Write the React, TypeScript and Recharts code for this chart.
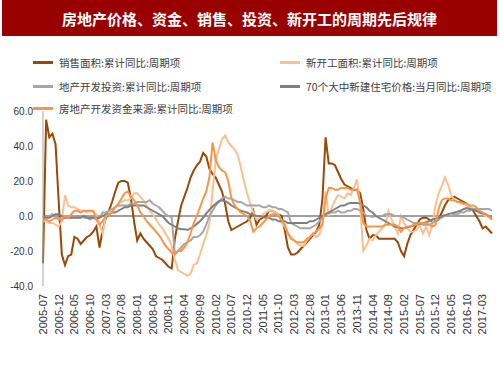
import React from "react";
import { LineChart, Line, XAxis, YAxis, ReferenceLine } from "recharts";

// monthly categories 2005-07 .. 2017-06
const firstYear = 2005;
const firstMonth = 7;
const monthCount = 144;
const months: string[] = [];
for (let k = 0; k < monthCount; k++) {
  const m = firstMonth - 1 + k;
  months.push(`${firstYear + Math.floor(m / 12)}-${String((m % 12) + 1).padStart(2, "0")}`);
}

const yTicks = [-40, -20, 0, 20, 40, 60];

// 销售面积:累计同比:周期项
const salesArea = [
  -27, 55, 45, 47, 41, 8, -22, -28, -23, -22, -12, -13,
  -16, -14, -12, -11, -9, -6, -18, -8, -1, 3, 8, 14,
  19, 20, 20, 19, 10, -3, -14, -10, -13, -15, -17, -19,
  -23, -24, -25, -27, -29, -30, -13, -3, 6, 11, 16, 22,
  26, 29, 31, 36, 34, 27, 24, 22, 18, 14, 7, -3,
  -8, -7, -6, -5, -4, -3, -1, 3, -5, -2, -1, 0,
  3, 3, 2, 1, 0, -8, -18, -22, -22, -21, -19, -17,
  -15, -13, -11, -9, -5, 10, 45, 30, 30, 29, 25, 21,
  18, 17, 16, 15, 15, 13, 4, -8, -13, -11, -11, -13,
  -13, -13, -13, -13, -13, -15, -20, -23, -16, -11, -8, -5,
  -2, -1, -1, -2, -3, -3, -2, 2, 6, 9, 10, 11,
  10, 9, 8, 7, 5, 3, 0, -3, -7, -6, -8, -10,
];

// 新开工面积:累计同比:周期项
const newStarts = [
  -3, -3, -4, -4, -5, -6, -3, 12, 6, 5, 5, 4,
  3, 3, 2, 3, 2, 1, -5, -10, 0, 2, 3, 5,
  7, 8, 9, 9, 10, 13, 13, 11, 9, 6, 3, 1,
  -2, -5, -7, -10, -13, -17, -25, -31, -32, -33, -34, -33,
  -28, -27, -22, -16, -11, -4, 14, 32, 38, 44, 46, 42,
  40, 38, 35, 28, 20, 13, 7, 2, -2, -1, 1, 2,
  3, 3, 2, 1, -4, -6, -10, -12, -14, -16, -17, -17,
  -14, -12, -10, -12, -11, -4, 14, 0, 5, 9, 12, 11,
  10, 13, 12, 16, 21, 6, -20, -17, -13, -14, -11, -9,
  -7, -5, 3, -2, -6, -10, 0, -4, -7, -9, -9, -8,
  -5, -10, -6, -11, -5, 6, 13, 17, 22, 18, 12, 9,
  8, 7, 7, 6, 5, 4, 3, 2, 1, 0, -1, -2,
];

// 地产开发投资:累计同比:周期项
const investment = [
  0, -1, 0, 1, 0, -1, -2, -1, 0, 0, 0, -1,
  0, -1, -1, -2, -1, -2, -1, 2, 2, 3, 4, 5,
  6, 6, 6, 6, 7, 7, 8, 8, 8, 8, 9, 7,
  6, 5, 3, 1, 0, -1, -22, -20, -18, -16, -15, -14,
  -12, -12, -11, -9, -5, 0, 3, 6, 8, 10, 11, 10,
  10, 9, 8, 8, 7, 6, 6, 6, 6, 6, 5, 5,
  6, 5, 5, 4, 4, 3, 2, -4, -5, -6, -7, -7,
  -7, -7, -6, -5, -3, -1, 1, 2, 2, 2, 3, 2,
  2, 3, 3, 4, 4, 3, 2, 0, 0, -0.5, 0, 0,
  0, 1, 1, 1, 0, 0, 0, -1, -2, -3, -4, -4,
  -4, -5, -5, -5, -4, -3, -2, -1, 0, 0, 0, 1,
  1, 2, 2, 3, 3, 4, 4, 4, 4, 4, 4, 3,
];

// 70个大中新建住宅价格:当月同比:周期项
const housePrice = [
  0, -1, -1, 0, 1, 1, 0, -1, -1, -1, -1, -1,
  -1, 0, -1, -1, -1, -1, -1, 0, 1, 1, 2, 2,
  3, 4, 5, 5, 6, 6, 6, 6, 6, 5, 4, 3,
  2, 1, 0, -2, -4, -5, -6, -7, -7.5, -7.5, -8, -7,
  -6, -4.5, -3, -1, 1.5, 3.5, 5.5, 7, 8.5, 9, 8.5, 7.5,
  6, 5, 4, 3, 2.5, 2, 1, 0.5, 0, 0, -0.5, -1,
  -1, -2, -2, -3, -3, -3, -4, -4, -4, -4, -4, -4,
  -4, -3, -3, -2, -1, 0, 1, 2, 3, 4, 5, 6,
  6, 7, 7.5, 7.5, 7.5, 7, 6, 5, 3, 2, 0, -1,
  -2, -3, -4, -5, -6, -6.5, -7, -7, -6.5, -6, -5.5, -5,
  -4.5, -4, -3.5, -3, -2, -1.5, -1, 0, 0.5, 1, 1.5, 2,
  2.5, 3, 4, 4.5, 4, 3.5, 3, 2, 1.5, 1, 0, -0.5,
];

// 房地产开发资金来源:累计同比:周期项
const funding = [
  -2, -2, -3, -2, -1, -2, -2, 0, -1, 1, 3, 3,
  2, 3, 3, 3, 3, -2, -5, -3, 0, 1, 2, 5,
  7, 10, 13, 14, 11, 9, 6, 2, 0, -3, -5, -7,
  -9, -11, -14, -17, -19, -21, -21, -20, -20, -18, -15, -10,
  -4, 0, 5, 10, 14, 22, 42, 32, 28, 26, 25, 20,
  10, 6, 4, 2, 1, 0, -3, -9, -7, -6, -4, -2,
  0, 1, 1, 0, -2, -5, -10, -13, -14, -15, -15, -15,
  -13, -12, -10, -9, -7, -5, 10, 16, 16, 15, 15, 16,
  16, 16, 15, 15, 15, 8, -4, -6, -6, -6, -6, -6,
  -6, -5, -5, -5, -5, -6, -9, -7, -6, -6, -5, -5,
  -4, -4, -4, -5, -6, -5, 4, 9, 10, 10, 9, 9,
  8, 8, 7, 7, 6, 6, 5, 3, 2, 1, 0, -2,
];

const seriesKeys = ["sales", "starts", "invest", "price", "funding"];
const seriesNames = [
  "销售面积:累计同比:周期项",
  "新开工面积:累计同比:周期项",
  "地产开发投资:累计同比:周期项",
  "70个大中新建住宅价格:当月同比:周期项",
  "房地产开发资金来源:累计同比:周期项",
];
const seriesColors = ["#984807", "#FAC090", "#A6A6A6", "#7F7F7F", "#F79646"];

const data = months.map((month, i) => ({
  month,
  sales: salesArea[i],
  starts: newStarts[i],
  invest: investment[i],
  price: housePrice[i],
  funding: funding[i],
}));

// legend slots: [left, top] of each entry
const legendSlots = [
  [33, 54],
  [280, 54],
  [33, 78],
  [280, 78],
  [33, 100],
];

function XTick(props: any) {
  const { x, y, payload } = props;
  return (
    <text
      x={x}
      y={y}
      transform={`rotate(-90 ${x} ${y})`}
      textAnchor="end"
      dy="0.35em"
      fontSize={11}
      fill="#333"
      fontFamily="'Liberation Sans', Arial, sans-serif"
    >
      {payload.value}
    </text>
  );
}

export default function App() {
  return (
    <div
      style={{
        position: "absolute",
        left: 0,
        top: 0,
        width: 500,
        height: 375,
        background: "#fff",
        fontFamily: "'Noto Sans CJK SC', sans-serif",
      }}
    >
      <div
        style={{
          position: "absolute",
          left: 2,
          top: 0,
          width: 495,
          height: 36,
          background: "#990000",
          color: "#fff",
          fontSize: 15,
          fontWeight: "bold",
          display: "flex",
          alignItems: "center",
          justifyContent: "center",
        }}
      >
        房地产价格、资金、销售、投资、新开工的周期先后规律
      </div>
      <div style={{ position: "absolute", left: 0, top: 0 }}>
        <LineChart
          width={500}
          height={375}
          data={data}
          margin={{ top: 111, right: 8, bottom: 29, left: 0 }}
        >
          <XAxis
            dataKey="month"
            interval={4}
            height={60}
            axisLine={false}
            tickLine={false}
            tick={<XTick />}
          />
          <YAxis
            width={43}
            domain={[-40, 60]}
            ticks={yTicks}
            tickFormatter={(v: number) => v.toFixed(1)}
            tickLine={false}
            tickMargin={4}
            axisLine={{ stroke: "#A6A6A6" }}
            tick={{ fontSize: 10, fill: "#333", fontFamily: "'Liberation Sans', Arial, sans-serif" }}
          />
          <ReferenceLine y={0} stroke="#7F7F7F" strokeWidth={1.5} />
          {seriesKeys.map((key, i) => (
            <Line
              key={key}
              type="linear"
              dataKey={key}
              name={seriesNames[i]}
              stroke={seriesColors[i]}
              strokeWidth={2}
              dot={false}
              isAnimationActive={false}
            />
          ))}
        </LineChart>
      </div>
      {seriesNames.map((name, i) => (
        <div
          key={name}
          style={{
            position: "absolute",
            left: legendSlots[i][0],
            top: legendSlots[i][1],
            height: 16,
            display: "flex",
            alignItems: "center",
            fontSize: 10.5,
            color: "#404040",
            whiteSpace: "nowrap",
          }}
        >
          <span
            style={{
              display: "inline-block",
              width: 20,
              height: 3,
              background: seriesColors[i],
              marginRight: 6,
            }}
          />
          {name}
        </div>
      ))}
    </div>
  );
}
